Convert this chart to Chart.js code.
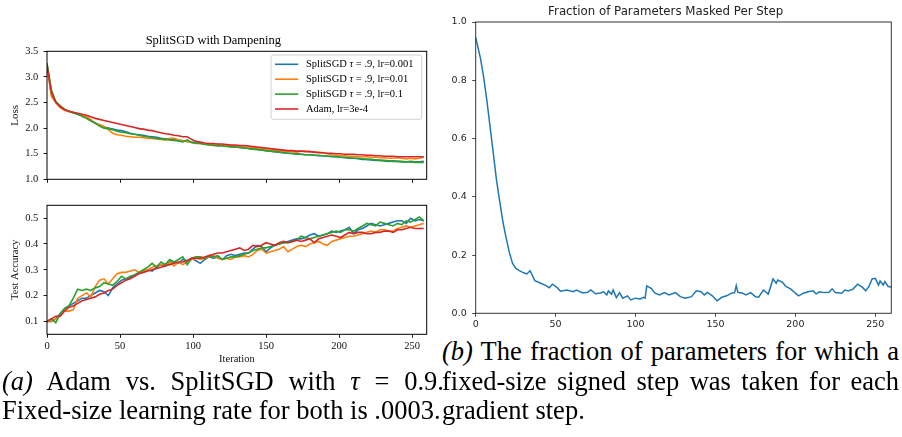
<!DOCTYPE html>
<html>
<head>
<meta charset="utf-8">
<script src="https://cdn.jsdelivr.net/npm/chart.js@4.4.1/dist/chart.umd.min.js"></script>
<style>
  html, body { margin: 0; padding: 0; background: #fff; width: 902px; height: 437px; overflow: hidden; }
  body { position: relative; }
  canvas { position: absolute; }
  .cap { position: absolute; font-family: 'Liberation Serif', 'DejaVu Serif', 'Times New Roman', serif; font-size: 26.5px;
         line-height: 30px; color: #000; white-space: nowrap; }
  .just { white-space: normal; text-align: justify; text-align-last: justify; }
</style>
</head>
<body>
<canvas id="lossChart" width="440" height="192" style="left:0;top:0"></canvas>
<canvas id="accChart" width="440" height="180" style="left:0;top:190px"></canvas>
<canvas id="maskChart" width="462" height="335" style="left:440px;top:0"></canvas>

<div class="cap just" style="left:2px;top:365.5px;width:442px"><i>(a)</i> Adam vs. SplitSGD with <i>τ</i> = 0.9.</div>
<div class="cap" style="left:2px;top:395px">Fixed-size learning rate for both is .0003.</div>
<div class="cap just" style="left:442px;top:336px;width:457px"><i>(b)</i> The fraction of parameters for which a</div>
<div class="cap just" style="left:442px;top:365.5px;width:457px">fixed-size signed step was taken for each</div>
<div class="cap" style="left:442px;top:395px">gradient step.</div>

<script>
// ---- data ---------------------------------------------------------------
const SERIES_NAMES = ['SplitSGD τ = .9, lr=0.001', 'SplitSGD τ = .9, lr=0.01', 'SplitSGD τ = .9, lr=0.1', 'Adam, lr=3e-4'];

const ITERS = [0,3,6,9,12,15,18,21,24,27,30,33,36,39,42,45,48,51,54,57,60,63,66,69,72,75,78,81,84,87,
  90,93,96,99,102,105,108,111,114,117,120,123,126,129,132,135,138,141,144,147,150,153,156,159,162,165,168,171,174,177,
  180,183,186,189,192,195,198,201,204,207,210,213,216,219,222,225,228,231,234,237,240,243,246,249,252,255,258];

const LOSS_LR0001 = [3.25,2.65,2.52,2.42,2.36,2.33,2.30,2.27,2.24,2.20,
  2.15,2.10,2.05,2.02,2.00,1.98,1.96,1.95,1.93,1.90,
  1.88,1.87,1.86,1.84,1.83,1.82,1.80,1.79,1.78,1.77,
  1.76,1.75,1.74,1.73,1.72,1.71,1.69,1.68,1.67,1.66,
  1.66,1.65,1.64,1.63,1.62,1.61,1.60,1.59,1.59,1.58,
  1.56,1.55,1.54,1.53,1.52,1.51,1.51,1.50,1.49,1.48,
  1.48,1.47,1.46,1.46,1.45,1.44,1.44,1.43,1.42,1.41,
  1.41,1.40,1.39,1.39,1.38,1.37,1.37,1.36,1.35,1.36,
  1.35,1.34,1.34,1.35,1.34,1.34,1.35];
const LOSS_LR001 = [3.22,2.62,2.50,2.40,2.35,2.32,2.30,2.28,2.25,2.22,
  2.17,2.09,2.07,2.03,1.97,1.90,1.87,1.86,1.84,1.83,
  1.82,1.82,1.81,1.80,1.80,1.79,1.78,1.77,1.80,1.80,
  1.77,1.75,1.74,1.72,1.71,1.70,1.69,1.68,1.67,1.68,
  1.67,1.66,1.66,1.65,1.64,1.63,1.63,1.62,1.61,1.60,
  1.59,1.58,1.57,1.56,1.55,1.55,1.54,1.53,1.55,1.55,
  1.54,1.53,1.53,1.52,1.50,1.48,1.47,1.46,1.46,1.45,
  1.45,1.44,1.44,1.44,1.43,1.43,1.42,1.42,1.41,1.41,
  1.42,1.41,1.40,1.41,1.40,1.41,1.43];
const LOSS_LR01 = [3.27,2.75,2.52,2.44,2.37,2.33,2.30,2.27,2.23,2.19,
  2.14,2.10,2.04,2.00,1.99,1.97,1.94,1.92,1.91,1.89,
  1.88,1.86,1.84,1.83,1.81,1.80,1.79,1.78,1.77,1.76,
  1.75,1.73,1.77,1.72,1.70,1.70,1.68,1.67,1.66,1.65,
  1.65,1.64,1.63,1.63,1.62,1.61,1.60,1.59,1.58,1.57,
  1.56,1.55,1.54,1.53,1.52,1.51,1.50,1.49,1.49,1.48,
  1.48,1.47,1.47,1.46,1.45,1.45,1.44,1.43,1.43,1.42,
  1.41,1.41,1.40,1.39,1.39,1.38,1.37,1.37,1.36,1.35,
  1.35,1.35,1.34,1.34,1.33,1.33,1.33];
const LOSS_ADAM = [3.22,2.70,2.50,2.42,2.36,2.33,2.31,2.29,2.27,2.25,
  2.22,2.19,2.17,2.15,2.13,2.11,2.09,2.07,2.05,2.03,
  2.01,1.99,1.98,1.96,1.95,1.93,1.91,1.89,1.88,1.86,
  1.85,1.83,1.83,1.78,1.74,1.73,1.71,1.70,1.70,1.69,
  1.69,1.68,1.67,1.67,1.66,1.66,1.65,1.64,1.63,1.62,
  1.61,1.60,1.59,1.58,1.57,1.56,1.56,1.55,1.55,1.54,
  1.54,1.53,1.52,1.52,1.51,1.51,1.50,1.50,1.49,1.49,
  1.49,1.48,1.48,1.47,1.47,1.46,1.46,1.45,1.45,1.45,
  1.44,1.44,1.44,1.44,1.44,1.44,1.44];

const ACC_LR0001 = [.10,.10,.11,.13,.15,.16,.17,.18,.19,.19,
  .20,.21,.22,.215,.20,.23,.245,.26,.265,.27,
  .28,.29,.295,.30,.295,.31,.32,.315,.33,.33,
  .325,.34,.335,.345,.335,.325,.34,.35,.345,.35,
  .34,.355,.36,.355,.36,.365,.365,.38,.395,.39,
  .37,.385,.395,.40,.405,.41,.415,.42,.42,.425,
  .435,.44,.43,.435,.44,.45,.445,.45,.455,.465,
  .44,.455,.46,.47,.48,.475,.47,.475,.48,.485,
  .49,.49,.48,.50,.49,.495,.49];
const ACC_LR001 = [.10,.10,.11,.12,.14,.14,.145,.19,.20,.21,
  .195,.235,.26,.265,.245,.265,.285,.29,.29,.295,
  .30,.29,.295,.30,.31,.315,.32,.32,.33,.315,
  .33,.32,.33,.34,.345,.34,.345,.35,.355,.345,
  .34,.345,.34,.35,.35,.355,.35,.36,.375,.38,
  .365,.37,.375,.38,.39,.37,.38,.39,.395,.39,
  .40,.405,.41,.40,.395,.41,.415,.42,.425,.43,
  .43,.435,.44,.445,.45,.445,.455,.455,.45,.45,
  .46,.465,.47,.465,.47,.475,.48];
const ACC_LR01 = [.10,.11,.095,.13,.15,.16,.19,.225,.22,.225,
  .22,.23,.235,.25,.245,.24,.255,.275,.265,.275,
  .28,.29,.30,.31,.325,.31,.33,.32,.34,.33,
  .34,.35,.32,.345,.35,.35,.345,.355,.35,.355,
  .34,.345,.35,.35,.355,.36,.365,.375,.38,.385,
  .385,.39,.395,.40,.405,.405,.41,.415,.43,.425,
  .42,.425,.43,.435,.44,.445,.45,.445,.455,.455,
  .45,.46,.47,.48,.475,.47,.485,.48,.475,.47,
  .48,.475,.49,.485,.495,.505,.49];
const ACC_ADAM = [.10,.11,.12,.12,.14,.155,.16,.17,.18,.185,
  .19,.195,.205,.21,.22,.225,.24,.25,.26,.265,
  .275,.285,.29,.295,.30,.305,.31,.315,.32,.325,
  .33,.33,.335,.345,.345,.345,.35,.355,.36,.365,
  .365,.37,.375,.38,.385,.375,.38,.395,.39,.395,
  .405,.40,.395,.405,.41,.405,.41,.415,.41,.415,
  .42,.405,.42,.425,.43,.435,.43,.425,.435,.445,
  .44,.445,.445,.44,.44,.445,.445,.45,.45,.445,
  .455,.455,.46,.465,.46,.46,.46];

const MASK_ITERS = [0,3,5,7,9,11,13,15,17,19,21,23,25,27,30,32,34,37,40,44,46,48,51,53,57,61,63,67,70,72,75,78,
  80,82,83,85,86,88,90,92,95,97,100,103,105,106,107,110,112,115,118,121,125,128,131,135,138,141,143,145,148,151,
  154,157,160,162,163,164,167,169,172,175,177,180,183,186,188,189,192,194,197,200,202,205,208,211,213,215,218,221,223,225,
  229,231,233,236,239,242,244,246,248,250,252,253,255,256,258,260];
const MASK_FRACTION = [.947,.875,.81,.73,.64,.55,.458,.385,.315,.26,.21,.172,.155,.147,.139,.135,.146,.112,.105,
  .095,.088,.100,.088,.076,.080,.074,.080,.070,.072,.080,.067,.070,.074,.063,.077,.066,.080,.054,.071,.052,.060,.046,
  .052,.049,.055,.052,.094,.085,.070,.063,.071,.063,.071,.057,.052,.057,.077,.074,.063,.072,.060,.043,
  .055,.060,.069,.071,.095,.072,.069,.063,.071,.057,.055,.080,.066,.118,.103,.114,.106,.092,.084,.069,
  .060,.069,.074,.077,.067,.074,.071,.072,.084,.071,.069,.080,.077,.083,.100,.089,.077,.092,.118,.120,
  .097,.111,.097,.109,.092,.090];

const ITER_TICKS = [0, 50, 100, 150, 200, 250];
const LOSS_TICKS = [1.0, 1.5, 2.0, 2.5, 3.0, 3.5];
const ACC_TICKS = [0.1, 0.2, 0.3, 0.4, 0.5];
const MASK_TICKS = [0.0, 0.2, 0.4, 0.6, 0.8, 1.0];

// ---- styling ------------------------------------------------------------
const COLORS = ['#1f77b4', '#ff7f0e', '#2ca02c', '#d62728'];
const SERIF = "'Liberation Serif', 'DejaVu Serif', 'Times New Roman', serif";
const SANS = "'DejaVu Sans', sans-serif";

// Full box around the plotting area (axes spines on all four sides)
const framePlugin = {
  id: 'frame',
  afterDatasetsDraw(chart, args, o) {
    const { ctx, chartArea: a } = chart;
    ctx.save();
    ctx.strokeStyle = o.color || '#000';
    ctx.lineWidth = o.width || 1;
    ctx.strokeRect(a.left, a.top, a.right - a.left, a.bottom - a.top);
    ctx.restore();
  }
};

// Legend box drawn inside the plot, upper right, with an italic tau
const boxLegend = {
  id: 'boxLegend',
  afterDraw(chart, args, o) {
    if (!o.display) return;
    const { ctx, chartArea: a } = chart;
    const bx = a.right - o.right - o.width;
    const by = a.top + o.top;
    ctx.save();
    ctx.beginPath();
    ctx.roundRect(bx, by, o.width, o.height, 2.5);
    ctx.fillStyle = 'rgba(255,255,255,0.8)';
    ctx.fill();
    ctx.strokeStyle = 'rgba(204,204,204,0.9)';
    ctx.lineWidth = 1;
    ctx.stroke();
    const normal = o.fontSize + 'px ' + SERIF;
    const italic = 'italic ' + o.fontSize + 'px ' + SERIF;
    ctx.textBaseline = 'middle';
    ctx.fillStyle = '#000';
    chart.data.datasets.forEach((ds, i) => {
      const y = by + o.firstRow + i * o.rowGap;
      ctx.strokeStyle = ds.borderColor;
      ctx.lineWidth = ds.borderWidth;
      ctx.beginPath();
      ctx.moveTo(bx + o.lineStart, y);
      ctx.lineTo(bx + o.lineEnd, y);
      ctx.stroke();
      let x = bx + o.textStart;
      const parts = ds.label.split('τ');
      parts.forEach((p, k) => {
        if (k > 0) {
          ctx.font = italic;
          ctx.fillText('τ', x, y);
          x += ctx.measureText('τ').width;
        }
        ctx.font = normal;
        ctx.fillText(p, x, y);
        x += ctx.measureText(p).width;
      });
    });
    ctx.restore();
  }
};

function series(label, xs, ys, color, order, width) {
  return {
    label, order,
    data: xs.map((x, i) => ({ x, y: ys[i] })),
    borderColor: color, backgroundColor: color,
    borderWidth: width, pointRadius: 0, tension: 0, fill: false
  };
}

function setTicks(values) {
  return axis => { axis.ticks = values.map(v => ({ value: v })); };
}

function gridOpts(color) {
  return { display: true, drawOnChartArea: false, drawTicks: true, tickLength: 3.5, color, lineWidth: 0.9 };
}

const baseOpts = { responsive: false, animation: false, devicePixelRatio: 1, events: [] };

// ---- loss panel ---------------------------------------------------------
new Chart(document.getElementById('lossChart'), {
  type: 'line',
  data: {
    datasets: [
      series(SERIES_NAMES[0], ITERS, LOSS_LR0001, COLORS[0], 3, 1.6),
      series(SERIES_NAMES[1], ITERS, LOSS_LR001, COLORS[1], 2, 1.6),
      series(SERIES_NAMES[2], ITERS, LOSS_LR01, COLORS[2], 1, 1.6),
      series(SERIES_NAMES[3], ITERS, LOSS_ADAM, COLORS[3], 0, 1.6)
    ]
  },
  options: Object.assign({}, baseOpts, {
    layout: { padding: { left: 0, right: 13.3, top: 0, bottom: 0 } },
    plugins: {
      legend: { display: false }, tooltip: { enabled: false },
      title: { display: true, text: 'SplitSGD with Dampening', color: '#000',
               font: { family: SERIF, size: 12.5, weight: 'normal', lineHeight: 1.2 },
               padding: { top: 33.5, bottom: 2.8 } },
      frame: { color: '#000', width: 1 },
      boxLegend: { display: true, right: 5, width: 150.7, top: 3.7, height: 64.3,
                   firstRow: 9.3, rowGap: 14.9, lineStart: 4, lineEnd: 27.3, textStart: 35, fontSize: 10.5 }
    },
    scales: {
      x: { type: 'linear', min: 0, max: 260, afterBuildTicks: setTicks(ITER_TICKS),
           afterFit: s => { s.height = 12.7; },
           ticks: { display: false }, grid: gridOpts('#000'), border: { display: false } },
      y: { type: 'linear', min: 1.0, max: 3.5, afterBuildTicks: setTicks(LOSS_TICKS),
           afterFit: s => { s.width = 47; },
           ticks: { color: '#111', padding: 5.2, font: { family: SERIF, size: 10.5 }, callback: v => v.toFixed(1) },
           title: { display: true, text: 'Loss', color: '#111', font: { family: SERIF, size: 11 }, padding: { top: 8.7, bottom: 0 } },
           grid: gridOpts('#000'), border: { display: false } }
    }
  }),
  plugins: [framePlugin, boxLegend]
});

// ---- test accuracy panel ------------------------------------------------
new Chart(document.getElementById('accChart'), {
  type: 'line',
  data: {
    datasets: [
      series(SERIES_NAMES[0], ITERS, ACC_LR0001, COLORS[0], 3, 1.6),
      series(SERIES_NAMES[1], ITERS, ACC_LR001, COLORS[1], 2, 1.6),
      series(SERIES_NAMES[2], ITERS, ACC_LR01, COLORS[2], 1, 1.6),
      series(SERIES_NAMES[3], ITERS, ACC_ADAM, COLORS[3], 0, 1.6)
    ]
  },
  options: Object.assign({}, baseOpts, {
    layout: { padding: { left: 0, right: 13.3, top: 15.3, bottom: 0 } },
    plugins: {
      legend: { display: false }, tooltip: { enabled: false },
      frame: { color: '#000', width: 1 }
    },
    scales: {
      x: { type: 'linear', min: 0, max: 260, afterBuildTicks: setTicks(ITER_TICKS),
           afterFit: s => { s.height = 35.7; },
           ticks: { color: '#111', padding: 2.4, maxRotation: 0, font: { family: SERIF, size: 10.5 } },
           title: { display: true, text: 'Iteration', color: '#111', font: { family: SERIF, size: 10.5 }, padding: { top: 0, bottom: 4.4 } },
           grid: gridOpts('#000'), border: { display: false } },
      y: { type: 'linear', min: 0.05, max: 0.55, afterBuildTicks: setTicks(ACC_TICKS),
           afterFit: s => { s.width = 47; },
           ticks: { color: '#111', padding: 5.2, font: { family: SERIF, size: 10.5 }, callback: v => v.toFixed(1) },
           title: { display: true, text: 'Test Accuracy', color: '#111', font: { family: SERIF, size: 10.5 }, padding: { top: 8.7, bottom: 0 } },
           grid: gridOpts('#000'), border: { display: false } }
    }
  }),
  plugins: [framePlugin]
});

// ---- masked fraction panel ----------------------------------------------
new Chart(document.getElementById('maskChart'), {
  type: 'line',
  data: {
    datasets: [ series('Fraction masked', MASK_ITERS, MASK_FRACTION, COLORS[0], 0, 1.5) ]
  },
  options: Object.assign({}, baseOpts, {
    layout: { padding: { left: 0, right: 10.7, top: 0, bottom: 0 } },
    plugins: {
      legend: { display: false }, tooltip: { enabled: false },
      title: { display: true, text: 'Fraction of Parameters Masked Per Step', color: '#222',
               font: { family: SANS, size: 11.8, weight: 'normal', lineHeight: 1.2 },
               padding: { top: 4.6, bottom: 3.24 } },
      frame: { color: '#333', width: 1 }
    },
    scales: {
      x: { type: 'linear', min: 0, max: 260, afterBuildTicks: setTicks(ITER_TICKS),
           afterFit: s => { s.height = 21.7; },
           ticks: { color: '#262626', padding: 2, maxRotation: 0, font: { family: SANS, size: 9.5 } },
           grid: gridOpts('#333'), border: { display: false } },
      y: { type: 'linear', min: 0, max: 1, afterBuildTicks: setTicks(MASK_TICKS),
           afterFit: s => { s.width = 35.7; },
           ticks: { color: '#262626', padding: 5.5, font: { family: SANS, size: 9.5 }, callback: v => v.toFixed(1) },
           grid: gridOpts('#333'), border: { display: false } }
    }
  }),
  plugins: [framePlugin]
});
</script>
</body>
</html>
